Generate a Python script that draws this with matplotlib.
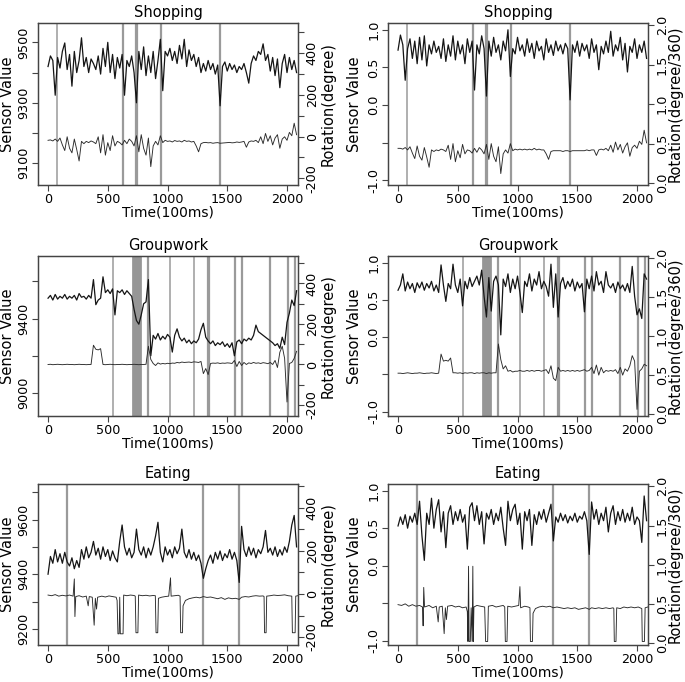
import numpy as np
import matplotlib
matplotlib.use("Agg")
import matplotlib.pyplot as plt

plt.rcParams['font.family'] = ['DejaVu Sans']

# ---------------- data ----------------
time_step = 20  # sampling step (100ms units) of the transcribed sensor series

# Shopping (raw sensor / rotation in degree)
shop_sensor_raw = [9420, 9455, 9440, 9325, 9450, 9415, 9470, 9498, 9410, 9460, 9355, 9470, 9400, 9440, 9515,
                   9420, 9450, 9400, 9445, 9430, 9410, 9455, 9395, 9480, 9420, 9500, 9400, 9460, 9380, 9450,
                   9415, 9460, 9325, 9440, 9420, 9455, 9400, 9300, 9470, 9410, 9485, 9390, 9455, 9400, 9470,
                   9380, 9440, 9510, 9340, 9470, 9455, 9480, 9440, 9470, 9430, 9490, 9445, 9510, 9420, 9475,
                   9440, 9460, 9420, 9450, 9400, 9430, 9405, 9440, 9410, 9430, 9395, 9425, 9290, 9420, 9435,
                   9405, 9430, 9410, 9425, 9400, 9420, 9410, 9430, 9400, 9365, 9430, 9455, 9440, 9470, 9460,
                   9495, 9440, 9460, 9405, 9450, 9390, 9445, 9350, 9430, 9460, 9400, 9450, 9410, 9440, 9400]
shop_rot_deg = [-18, -16, -21, -12, -23, -7, -40, -67, -1, -56, -78, -12, -62, -117, -23,
                -34, -23, -29, -21, -26, -34, -1, -78, 9, -89, -29, -67, 4, -45, -23,
                -29, -40, -18, -34, -12, -23, -45, 4, -73, 9, -56, -89, -7, -144, -45,
                -23, -40, 4, -29, -18, -23, -21, -26, -19, -23, -21, -26, -18, -23, -21,
                -26, -23, -45, -73, -34, -29, -28, -30, -29, -32, -30, -29, -32, -31, -30,
                -29, -28, -30, -29, -26, -28, -26, -23, -51, -26, -21, -23, -18, -29, -1,
                -34, 15, -23, 4, -40, -7, 9, -56, -12, -1, -18, 20, 4, 64, 9]
# Shopping (normalised sensor / rotation in degree/360)
shop_sensor_norm = [0.73, 0.93, 0.80, 0.33, 0.75, 0.88, 0.62, 0.85, 0.55, 0.90, 0.60, 0.92, 0.52, 0.80, 0.68,
                    0.85, 0.70, 0.78, 0.62, 0.88, 0.58, 0.80, 0.65, 0.92, 0.60, 0.85, 0.68, 0.80, 0.55, 0.88,
                    0.70, 0.85, 0.20, 0.80, 0.68, 0.92, 0.75, 0.12, 0.85, 0.65, 0.90, 0.70, 0.80, 0.60, 0.85,
                    0.72, 1.00, 0.38, 0.75, 0.68, 0.90, 0.72, 0.80, 0.65, 0.88, 0.70, 0.82, 0.62, 0.85, 0.72,
                    0.78, 0.60, 0.88, 0.70, 0.80, 0.66, 0.85, 0.72, 0.80, 0.68, 0.82, 0.75, 0.07, 0.80, 0.70,
                    0.85, 0.65, 0.82, 0.72, 0.80, 0.62, 0.88, 0.70, 0.80, 0.47, 0.78, 0.68, 0.85, 0.70, 0.98,
                    0.65, 0.80, 0.72, 0.90, 0.60, 0.82, 0.44, 0.78, 0.70, 0.88, 0.62, 0.80, 0.70, 0.85, 0.62]
shop_rot_norm = [0.44, 0.44, 0.43, 0.45, 0.42, 0.46, 0.38, 0.31, 0.47, 0.34, 0.29, 0.45, 0.33, 0.20, 0.42,
                 0.40, 0.42, 0.41, 0.43, 0.42, 0.40, 0.48, 0.30, 0.50, 0.27, 0.41, 0.32, 0.49, 0.37, 0.42,
                 0.41, 0.38, 0.44, 0.39, 0.45, 0.42, 0.37, 0.49, 0.30, 0.50, 0.34, 0.27, 0.46, 0.12, 0.37,
                 0.42, 0.38, 0.50, 0.41, 0.43, 0.42, 0.43, 0.42, 0.43, 0.42, 0.43, 0.42, 0.44, 0.42, 0.43,
                 0.42, 0.42, 0.37, 0.30, 0.40, 0.41, 0.41, 0.41, 0.41, 0.40, 0.41, 0.41, 0.40, 0.41, 0.41,
                 0.41, 0.41, 0.41, 0.41, 0.42, 0.41, 0.42, 0.42, 0.35, 0.42, 0.43, 0.42, 0.44, 0.41, 0.48,
                 0.39, 0.52, 0.42, 0.49, 0.38, 0.46, 0.51, 0.34, 0.45, 0.48, 0.44, 0.53, 0.49, 0.67, 0.51]
shop_events = [77, 626, 735, 746, 943, 1436]

# Groupwork
group_sensor_raw = [9510, 9525, 9500, 9530, 9505, 9520, 9510, 9530, 9505, 9520, 9510, 9525, 9500, 9535, 9515,
                    9520, 9505, 9525, 9510, 9610, 9475, 9500, 9510, 9625, 9540, 9555, 9535, 9560, 9420, 9550,
                    9540, 9555, 9530, 9550, 9535, 9520, 9450, 9390, 9370, 9420, 9480, 9490, 9610, 9200, 9310,
                    9290, 9320, 9285, 9305, 9290, 9315, 9300, 9220, 9310, 9345, 9300, 9280, 9295, 9270, 9285,
                    9265, 9280, 9270, 9290, 9340, 9375, 9300, 9280, 9265, 9280, 9255, 9270, 9260, 9275, 9250,
                    9265, 9245, 9270, 9200, 9275, 9285, 9265, 9290, 9280, 9295, 9285, 9310, 9365, 9330, 9320,
                    9310, 9300, 9290, 9280, 9270, 9255, 9265, 9240, 9300, 9260, 9380, 9430, 9500, 9470, 9550]
group_rot_deg = [0, 1, -1, 0, 1, 0, -1, 0, 1, 0, 0, -1, 0, 1, 0, 0, -1, 0, 0,
                 95, 75, 72, 78, 0,
                 -1, 0, 1, 0, -1, 0, 0, 1, 0, -1, 0, 0, 1, 0, -1, 0, 0, 1,
                 90, 25, 5, -5, 8, 2, 5, 3, 6, 4,
                 7, 6, 10, 8, 12, 10, 11, 12, 10, 13,
                 12, 10, 15, -45, -20, -50, 5, 7, 6, 8,
                 5, 7, 6, 8, 7, 5, 20, -10, 15, -5,
                 10, 0, 8, 5, 10, 6, 8, 5, 9, 7,
                 4, 10, 0, 20, -15, 60, 90, 30, -185, 5,
                 10, 30, 65]
group_sensor_norm = [0.63, 0.70, 0.85, 0.62, 0.74, 0.65, 0.72, 0.60, 0.73, 0.66, 0.74, 0.63, 0.72, 0.66, 0.75,
                     0.62, 0.70, 0.60, 0.97, 0.70, 0.48, 0.72, 0.65, 0.98, 0.70, 0.60, 0.78, 0.42, 0.75, 0.65,
                     0.80, 0.68, 0.75, 0.82, 0.70, 0.90, 0.55, 0.27, 0.80, 0.35, 0.75, 0.82, 0.70, 0.03, 0.78,
                     0.68, 0.85, 0.60, 0.78, 0.65, 0.82, 0.60, 0.33, 0.75, 0.68, 0.85, 0.62, 0.78, 0.70, 0.88,
                     0.65, 0.75, 0.68, 0.55, 0.98, 0.40, 0.85, 0.27, 0.72, 0.80, 0.65, 0.75, 0.68, 0.78, 0.62,
                     0.74, 0.66, 0.72, 0.34, 0.78, 0.65, 0.82, 0.62, 0.88, 0.70, 0.75, 0.60, 0.88, 0.70, 0.66,
                     0.72, 0.60, 0.74, 0.65, 0.70, 0.62, 0.72, 0.60, 0.95, 0.55, 0.30, 0.38, 0.25, 0.85, 0.78]
group_rot_norm = [0.525, 0.525, 0.52, 0.525, 0.53, 0.525, 0.52, 0.525, 0.525, 0.53, 0.525, 0.52, 0.525, 0.525,
                  0.53, 0.525, 0.52, 0.525,
                  0.77, 0.68, 0.69, 0.68, 0.72, 0.53,
                  0.53, 0.525, 0.53, 0.52, 0.53, 0.525, 0.53, 0.53, 0.52, 0.53, 0.525, 0.53, 0.53, 0.52,
                  0.53, 0.525, 0.53, 0.53,
                  0.90, 0.70, 0.58, 0.62, 0.55, 0.56, 0.54, 0.55, 0.55, 0.56,
                  0.55, 0.55, 0.56, 0.55, 0.56, 0.55, 0.56, 0.56, 0.55, 0.56,
                  0.57, 0.52, 0.62, 0.46, 0.43, 0.60, 0.55, 0.56, 0.55, 0.56,
                  0.55, 0.56, 0.55, 0.56, 0.55, 0.56, 0.57, 0.55, 0.56, 0.60,
                  0.52, 0.63, 0.50, 0.60, 0.53, 0.56, 0.55, 0.56, 0.55, 0.57,
                  0.52, 0.60, 0.50, 0.58, 0.55, 0.62, 0.75, 0.68, 0.06, 0.55,
                  0.58, 0.64, 0.62]
group_events = [546, 840, 1018, 1220, 1342, 1350, 1564, 1626, 1855, 2006, 2069]
group_band = (713, 775)
group_band_lines = [713, 730, 748, 762, 775]

# Eating
eat_sensor_raw = [9400, 9465, 9440, 9490, 9445, 9475, 9440, 9480, 9445, 9430, 9460, 9420, 9450, 9425, 9490,
                  9455, 9500, 9460, 9480, 9520, 9470, 9495, 9455, 9500, 9465, 9490, 9450, 9485, 9460, 9445,
                  9520, 9580, 9500, 9470, 9495, 9460, 9480, 9565, 9490, 9470, 9500, 9460, 9495, 9470, 9500,
                  9540, 9590, 9480, 9445, 9500, 9470, 9490, 9460, 9500, 9475, 9495, 9565, 9480, 9460, 9490,
                  9455, 9480, 9450, 9470, 9440, 9385, 9420, 9450, 9470, 9440, 9480, 9455, 9485, 9450, 9475,
                  9460, 9490, 9455, 9480, 9450, 9370, 9575, 9490, 9465, 9500, 9470, 9495, 9460, 9490, 9475,
                  9500, 9560, 9480, 9495, 9470, 9500, 9465, 9490, 9470, 9500, 9480, 9520, 9580, 9615, 9500]
eat_rot_deg_t = [0, 30, 60, 90, 120, 150, 180, 210, 220, 225, 232, 260, 290, 320, 336, 345, 370, 386, 396,
                 406, 415, 450, 480, 510, 540, 570, 578, 585, 595, 600, 605, 628, 633, 660, 690, 720, 730,
                 736, 752, 758, 790, 820, 850, 880, 898, 904, 918, 924, 950, 980, 1010, 1025, 1030, 1060,
                 1090, 1105, 1110, 1125, 1130, 1150, 1180, 1210, 1240, 1270, 1300, 1330, 1360, 1390, 1420,
                 1450, 1480, 1510, 1540, 1570, 1600, 1620, 1650, 1680, 1710, 1740, 1770, 1800, 1808, 1812,
                 1825, 1830, 1860, 1890, 1920, 1950, 1980, 2010, 2040, 2045, 2068, 2073, 2090]
eat_rot_deg_v = [-5, -8, -3, -10, -6, -9, -5, -10, 70, -105, -12, -8, -14, -10, -55, -12, -15, -145, -20,
                 -70, -15, -10, -14, -9, -12, -15, -30, -185, -185, -15, -185, -185, -5, -8, -5, -7, -10,
                 -180, -180, -5, -8, -6, -9, -7, -8, -180, -180, -20, -15, -12, -10, 75, -10, -8,
                 -6, -10, -180, -180, -55, -30, -22, -18, -15, -18, -12, -16, -14, -18, -22,
                 -17, -25, -18, -22, -20, -25, -15, -12, -14, -10, -8, -10, -9, -12, -180,
                 -180, -10, -8, -5, -7, -6, -4, -8, -10, -180, -180, -10, -8]
eat_sensor_norm = [0.53, 0.65, 0.55, 0.68, 0.50, 0.66, 0.58, 0.70, 0.55, 0.86, 0.40, 0.07, 0.70, 0.55, 0.90,
                   0.50, 0.75, 0.88, 0.45, 0.72, 0.24, 0.70, 0.80, 0.55, 0.72, 0.60, 0.75, 0.58, 0.68, 0.22,
                   0.78, 0.84, 0.60, 0.80, 0.55, 0.72, 0.29, 0.70, 0.62, 0.75, 0.55, 0.70, 0.60, 0.78, 0.50,
                   0.27, 0.86, 0.60, 0.75, 0.82, 0.55, 0.70, 0.22, 0.72, 0.60, 0.75, 0.27, 0.68, 0.55, 0.72,
                   0.62, 0.75, 0.58, 0.70, 0.82, 0.33, 0.65, 0.58, 0.70, 0.60, 0.68, 0.57, 0.66, 0.60, 0.70,
                   0.58, 0.66, 0.62, 0.72, 0.60, 0.15, 0.85, 0.62, 0.75, 0.55, 0.70, 0.60, 0.78, 0.45, 0.70,
                   0.80, 0.55, 0.72, 0.60, 0.75, 0.58, 0.70, 0.60, 0.78, 0.55, 0.65, 0.60, 0.31, 0.93, 0.60]
eat_rot_norm_t = [0, 30, 60, 90, 120, 150, 180, 205, 210, 215, 222, 260, 290, 320, 336, 345, 370, 386, 396,
                  405, 415, 450, 480, 510, 540, 570, 580, 585, 590, 595, 605, 612, 620, 626, 630, 635, 660,
                  690, 725, 733, 750, 756, 790, 820, 850, 880, 893, 898, 912, 918, 950, 980, 1010, 1020,
                  1026, 1060, 1090, 1104, 1108, 1125, 1130, 1150, 1180, 1210, 1240, 1270, 1300, 1330, 1360,
                  1390, 1420, 1450, 1480, 1510, 1540, 1570, 1600, 1620, 1650, 1680, 1710, 1740, 1770, 1800,
                  1806, 1810, 1824, 1830, 1860, 1890, 1920, 1950, 1980, 2010, 2040, 2044, 2062, 2068, 2090]
eat_rot_norm_v = [0.49, 0.48, 0.50, 0.47, 0.49, 0.47, 0.48, 0.46, 0.22, 0.71, 0.46, 0.48, 0.45, 0.47, 0.27,
                  0.46, 0.47, 0.12, 0.45, 0.30, 0.47, 0.48, 0.46, 0.47, 0.45, 0.46, 0.40, 0.02, 0.98, 0.02,
                  0.02, 0.45, 0.02, 0.98, 0.02, 0.46, 0.48, 0.47, 0.46, 0.02, 0.02, 0.47, 0.48, 0.46, 0.47,
                  0.48, 0.46, 0.02, 0.02, 0.47, 0.46, 0.47, 0.48, 0.72, 0.45, 0.47, 0.46, 0.45, 0.02, 0.02,
                  0.38, 0.44, 0.46, 0.47, 0.46, 0.47, 0.45, 0.46, 0.45, 0.44, 0.45, 0.44, 0.45, 0.43, 0.44,
                  0.45, 0.43, 0.45, 0.44, 0.45, 0.44, 0.45, 0.44, 0.45, 0.44, 0.02, 0.02, 0.45, 0.44, 0.46,
                  0.45, 0.46, 0.45, 0.46, 0.44, 0.02, 0.02, 0.45, 0.46]
eat_events = [160, 1298, 1597]

titles = ["Shopping", "Groupwork", "Eating"]
x_ticks = [0, 500, 1000, 1500, 2000]

# ---------------- styling / layout ----------------
FIG_W, FIG_H = 685, 682
fig = plt.figure(figsize=(FIG_W / 100, FIG_H / 100), dpi=100)

def fbox(x0, y0, x1, y1):
    return [x0 / FIG_W, 1 - y1 / FIG_H, (x1 - x0) / FIG_W, (y1 - y0) / FIG_H]

rows_y = [(23, 185), (256, 416), (484, 645)]
cols_x = [(38, 298), (388, 648)]
XLIM = (-84, 2092)
SPINE = '#444444'
EVCOL = '#9a9a9a'
TFS = 9.2

left_cfg = [
    dict(ylim=(9028, 9564), ticks=[9100, 9200, 9300, 9400, 9500], labels=['9100', '', '9300', '', '9500'],
         rylim=(-232, 544)),
    dict(ylim=(8876, 9737), ticks=[9000, 9200, 9400, 9600], labels=['9000', '', '9400', ''],
         rylim=(-254, 535)),
    dict(ylim=(9141, 9730), ticks=[9200, 9300, 9400, 9500, 9600, 9700],
         labels=['9200', '', '9400', '', '9600', ''], rylim=(-237, 511)),
]
r_ticks_deg = [-200, -100, 0, 100, 200, 300, 400, 500]
r_labels_deg = ['-200', '', '0', '', '200', '', '400', '']

series = [
    (shop_sensor_raw, None, shop_rot_deg, shop_sensor_norm, None, shop_rot_norm, shop_events),
    (group_sensor_raw, None, group_rot_deg, group_sensor_norm, None, group_rot_norm, group_events),
    (eat_sensor_raw, eat_rot_deg_t, eat_rot_deg_v, eat_sensor_norm, eat_rot_norm_t, eat_rot_norm_v, eat_events),
]

def style_axis(ax):
    for s in ax.spines.values():
        s.set_color(SPINE)
        s.set_linewidth(0.9)
    ax.tick_params(direction='out', length=4, width=0.8, color=SPINE, labelsize=TFS, pad=1.5)

def draw_events(ax, events, row):
    for i, e in enumerate(events):
        lw = 1.1 if (row == 0 and i == 0) or (row == 1 and e in (546, 1018, 1220)) else 1.6
        ax.axvline(e, color=EVCOL, lw=lw, zorder=0)
    if row == 1:
        ax.axvspan(group_band[0], group_band[1], color='#b8b8b8', lw=0, zorder=0)
        for e in group_band_lines:
            ax.axvline(e, color='#909090', lw=1.2, zorder=0)

for row in range(3):
    s_raw, rt_deg, r_deg, s_norm, rt_norm, r_norm, events = series[row]
    y0, y1 = rows_y[row]
    for col in range(2):
        x0, x1 = cols_x[col]
        ax = fig.add_axes(fbox(x0, y0, x1, y1))
        axr = ax.twinx()
        ax.set_xlim(*XLIM)
        draw_events(ax, events, row)
        if col == 0:
            sens = s_raw
            rot = r_deg
            rt = rt_deg
            cfg = left_cfg[row]
            ax.set_ylim(*cfg['ylim'])
            ax.set_yticks(cfg['ticks'])
            ax.set_yticklabels(cfg['labels'])
            axr.set_ylim(*cfg['rylim'])
            axr.set_yticks(r_ticks_deg)
            axr.set_yticklabels(r_labels_deg)
            rlabel = 'Rotation(degree)'
        else:
            sens = s_norm
            rot = r_norm
            rt = rt_norm
            ax.set_ylim(-1.06, 1.09)
            ax.set_yticks([-1.0, -0.5, 0.0, 0.5, 1.0])
            ax.set_yticklabels(['-1.0', '', '0.0', '0.5', '1.0'])
            axr.set_ylim(-0.025, 2.03)
            axr.set_yticks([0.0, 0.5, 1.0, 1.5, 2.0])
            axr.set_yticklabels(['0.0', '0.5', '1.0', '1.5', '2.0'])
            rlabel = 'Rotation(degree/360)'
        ts = np.arange(len(sens)) * time_step
        ax.plot(ts, sens, color='#151515', lw=0.9, zorder=3)
        tr = np.arange(len(rot)) * time_step if rt is None else np.asarray(rt)
        axr.plot(tr, rot, color='#2a2a2a', lw=0.65, zorder=3)
        axr.set_xlim(*XLIM)

        ax.set_xticks(x_ticks)
        ax.set_xticklabels([str(v) for v in x_ticks])
        style_axis(ax)
        style_axis(axr)
        for lab in ax.get_yticklabels():
            lab.set_rotation(90)
            lab.set_va('center')
        for lab in axr.get_yticklabels():
            lab.set_rotation(90)
            lab.set_va('center')
        ax.set_title(titles[row], fontsize=10.5, pad=4)
        ax.set_xlabel('Time(100ms)', fontsize=10)
        ax.set_ylabel('Sensor Value', fontsize=10.5)
        axr.set_ylabel(rlabel, fontsize=10.5)
        w = x1 - x0
        h = y1 - y0
        ax.xaxis.set_label_coords(0.5, -20.5 / h)
        if col == 0:
            ax.yaxis.set_label_coords((15 - x0) / w, 0.5)
            axr.yaxis.set_label_coords((321 - x0) / w, 0.5)
        else:
            ax.yaxis.set_label_coords((362 - x0) / w, 0.5)
            axr.yaxis.set_label_coords((668 - x0) / w, 0.5)

fig.savefig('out.png', dpi=100)
